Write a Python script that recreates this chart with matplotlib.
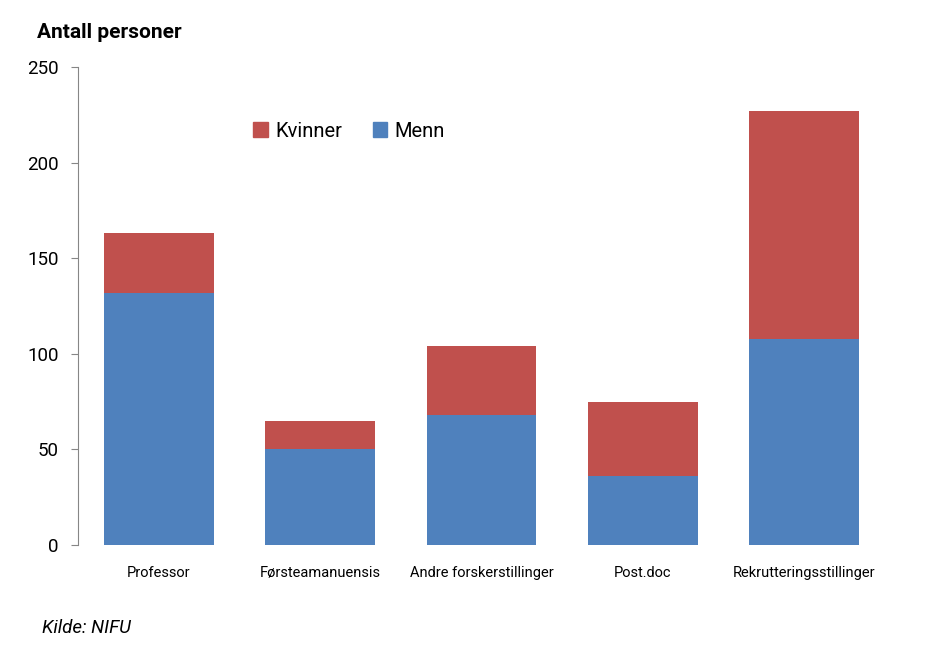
import matplotlib.pyplot as plt
from matplotlib.patches import Patch

categories = ["Professor", "Førsteamanuensis", "Andre forskerstillinger", "Post.doc", "Rekrutteringsstillinger"]
menn = [132, 50, 68, 36, 108]
kvinner = [31, 15, 36, 39, 119]

blue = "#4F81BD"
red = "#C0504D"
plt.rcParams["font.family"] = ["Roboto", "DejaVu Sans"]

fig = plt.figure(figsize=(9.27, 6.52), dpi=100)
ax = fig.add_axes([0.0841, 0.1641, 0.8706, 0.7331])

x = range(len(categories))
ax.bar(x, menn, width=0.68, color=blue, label="Menn")
ax.bar(x, kvinner, width=0.68, bottom=menn, color=red, label="Kvinner")

ax.set_xlim(-0.5, len(categories) - 0.5)
ax.set_ylim(0, 250)
ax.set_yticks([0, 50, 100, 150, 200, 250])
ax.set_xticks(list(x))
ax.set_xticklabels(categories, fontsize=10.5)
ax.tick_params(axis="y", labelsize=13.5)

for s in ["top", "right", "bottom"]:
    ax.spines[s].set_visible(False)
ax.spines["left"].set_color("#868686")
ax.tick_params(axis="y", length=5, color="#868686", pad=9)
ax.tick_params(axis="x", length=0, pad=15)

handles = [Patch(color=red, label="Kvinner"), Patch(color=blue, label="Menn")]
ax.legend(handles=handles, loc="center left", bbox_to_anchor=(0.195, 0.866), ncol=2,
          frameon=False, prop={"size": 14.5},
          handlelength=0.7, handleheight=0.7, handletextpad=0.4, columnspacing=1.5)

fig.text(0.04, 0.95, "Antall personer", fontsize=15, fontweight="bold", va="center")
fig.text(0.045, 0.037, "Kilde: NIFU", fontsize=13.5, style="italic", va="center")

fig.savefig("out.png", dpi=100)
